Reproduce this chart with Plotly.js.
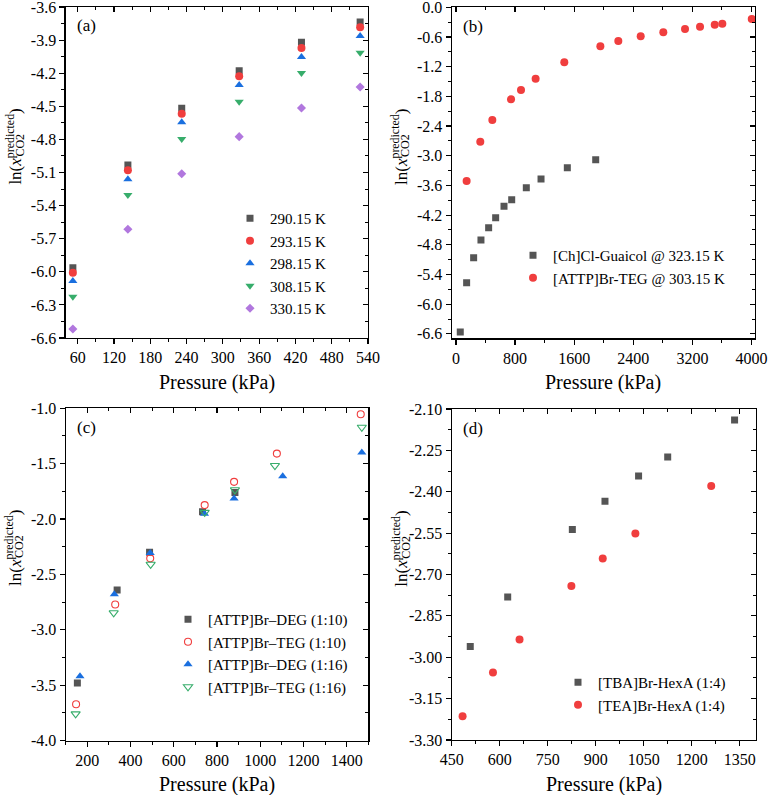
<!DOCTYPE html>
<html>
<head>
<meta charset="utf-8">
<script src="https://cdn.plot.ly/plotly-3.0.1.min.js"></script>
<style>html,body{margin:0;padding:0;background:#fff;}#chart{width:770px;height:795px;}</style>
</head>
<body>
<div id="chart"></div>
<script>
// ---------- Panel (a) ----------
const aPressure = [52, 143, 232, 327, 430, 527];
const a290 = [-5.963, -5.032, -4.518, -4.177, -3.920, -3.736];
const a293 = [-6.008, -5.080, -4.567, -4.228, -3.972, -3.784];
const a298 = [-6.083, -5.162, -4.645, -4.307, -4.053, -3.863];
const a308 = [-6.226, -5.304, -4.796, -4.458, -4.198, -4.014];
const a330 = [-6.518, -5.615, -5.111, -4.775, -4.515, -4.325];
const aNames = ["290.15 K", "293.15 K", "298.15 K", "308.15 K", "330.15 K"];
const aXTicks = [60, 120, 180, 240, 300, 360, 420, 480, 540];
const aXLabels = ["60", "120", "180", "240", "300", "360", "420", "480", "540"];
const aYTicks = [-3.6, -3.9, -4.2, -4.5, -4.8, -5.1, -5.4, -5.7, -6.0, -6.3, -6.6];
const aYLabels = ["-3.6", "-3.9", "-4.2", "-4.5", "-4.8", "-5.1", "-5.4", "-5.7", "-6.0", "-6.3", "-6.6"];

// ---------- Panel (b) ----------
const bPressureCh = [58, 144, 239, 338, 442, 537, 650, 754, 952, 1151, 1507, 1891];
const bLnCh = [-6.564, -5.567, -5.062, -4.704, -4.455, -4.253, -4.023, -3.889, -3.647, -3.471, -3.243, -3.081];
const bPressureAttp = [144, 329, 492, 745, 880, 1078, 1466, 1954, 2197, 2500, 2806, 3100, 3303, 3502, 3605, 4003];
const bLnAttp = [-3.51, -2.717, -2.278, -1.86, -1.672, -1.443, -1.112, -0.789, -0.681, -0.587, -0.506, -0.439, -0.392, -0.351, -0.331, -0.237];
const bNames = ["[Ch]Cl-Guaicol @ 323.15 K", "[ATTP]Br-TEG @ 303.15 K"];
const bXTicks = [0, 800, 1600, 2400, 3200, 4000];
const bXLabels = ["0", "800", "1600", "2400", "3200", "4000"];
const bYTicks = [0, -0.6, -1.2, -1.8, -2.4, -3.0, -3.6, -4.2, -4.8, -5.4, -6.0, -6.6];
const bYLabels = ["0.0", "-0.6", "-1.2", "-1.8", "-2.4", "-3.0", "-3.6", "-4.2", "-4.8", "-5.4", "-6.0", "-6.6"];

// ---------- Panel (c) ----------
const cPressureDeg10 = [154, 338, 488, 733, 883];
const cLnDeg10 = [-3.481, -2.640, -2.301, -1.934, -1.760];
const cPressureTeg10 = [148, 329, 491, 743, 879, 1077, 1465];
const cLnTeg10 = [-3.673, -2.772, -2.355, -1.874, -1.664, -1.409, -1.054];
const cPressureDeg16 = [166, 325, 491, 742, 879, 1104, 1470];
const cLnDeg16 = [-3.420, -2.680, -2.306, -1.952, -1.814, -1.613, -1.400];
const cPressureTeg16 = [146, 322, 493, 743, 883, 1068, 1470];
const cLnTeg16 = [-3.760, -2.847, -2.409, -1.940, -1.736, -1.517, -1.171];
const cNames = ["[ATTP]Br\u2013DEG (1:10)", "[ATTP]Br\u2013TEG (1:10)", "[ATTP]Br\u2013DEG (1:16)", "[ATTP]Br\u2013TEG (1:16)"];
const cXTicks = [200, 400, 600, 800, 1000, 1200, 1400];
const cXLabels = ["200", "400", "600", "800", "1000", "1200", "1400"];
const cYTicks = [-1.0, -1.5, -2.0, -2.5, -3.0, -3.5, -4.0];
const cYLabels = ["-1.0", "-1.5", "-2.0", "-2.5", "-3.0", "-3.5", "-4.0"];

// ---------- Panel (d) ----------
const dPressureTba = [508, 625, 827, 929, 1034, 1125, 1334];
const dLnTba = [-2.961, -2.782, -2.537, -2.434, -2.343, -2.274, -2.140];
const dPressureTea = [484, 579, 662, 824, 922, 1024, 1261];
const dLnTea = [-3.214, -3.055, -2.936, -2.742, -2.642, -2.551, -2.379];
const dNames = ["[TBA]Br-HexA (1:4)", "[TEA]Br-HexA (1:4)"];
const dXTicks = [450, 600, 750, 900, 1050, 1200, 1350];
const dXLabels = ["450", "600", "750", "900", "1050", "1200", "1350"];
const dYTicks = [-2.10, -2.25, -2.40, -2.55, -2.70, -2.85, -3.00, -3.15, -3.30];
const dYLabels = ["-2.10", "-2.25", "-2.40", "-2.55", "-2.70", "-2.85", "-3.00", "-3.15", "-3.30"];

const panelLabels = ["(a)", "(b)", "(c)", "(d)"];
const xTitle = "Pressure (kPa)";
const yTitleMain = "ln(<i>x</i><sup>predicted</sup>)";
const yTitleSub = "CO2";

// ---------- style ----------
const FONT = "Liberation Serif";
const GRAY = "#555555", RED = "#F03E3E", BLUE = "#1A6FDF", GREEN = "#37AD6B", PURPLE = "#B177DE";
const W = 770, H = 795;
const px = v => v / W;
const py = v => 1 - v / H;

function tr(x, y, name, ax, lg, symbol, color, size, open) {
  return {
    type: "scatter", mode: "markers", x: x, y: y, name: name,
    xaxis: "x" + ax, yaxis: "y" + ax, legend: lg,
    marker: open
      ? {symbol: symbol, size: size, color: color, line: {color: color, width: 1.1}}
      : {symbol: symbol, size: size, color: color, line: {width: 0}}
  };
}

const data = [
  tr(aPressure, a290, aNames[0], 1, "legend", "square", GRAY, 7),
  tr(aPressure, a293, aNames[1], 1, "legend", "circle", RED, 8),
  tr(aPressure, a298, aNames[2], 1, "legend", "triangle-up", BLUE, 8),
  tr(aPressure, a308, aNames[3], 1, "legend", "triangle-down", GREEN, 8),
  tr(aPressure, a330, aNames[4], 1, "legend", "diamond", PURPLE, 7),
  tr(bPressureCh, bLnCh, bNames[0], 2, "legend2", "square", GRAY, 7),
  tr(bPressureAttp, bLnAttp, bNames[1], 2, "legend2", "circle", RED, 8),
  tr(cPressureDeg10, cLnDeg10, cNames[0], 3, "legend3", "square", GRAY, 7),
  tr(cPressureTeg10, cLnTeg10, cNames[1], 3, "legend3", "circle-open", RED, 7, true),
  tr(cPressureDeg16, cLnDeg16, cNames[2], 3, "legend3", "triangle-up", BLUE, 8),
  tr(cPressureTeg16, cLnTeg16, cNames[3], 3, "legend3", "triangle-down-open", GREEN, 8, true),
  tr(dPressureTba, dLnTba, dNames[0], 4, "legend4", "square", GRAY, 7),
  tr(dPressureTea, dLnTea, dNames[1], 4, "legend4", "circle", RED, 8)
];

const layout = {
  width: W, height: H,
  margin: {l: 0, r: 0, t: 0, b: 0},
  paper_bgcolor: "#fff", plot_bgcolor: "rgba(0,0,0,0)",
  font: {family: FONT, size: 16, color: "#000"},
  annotations: []
};

const EPS = 1e-6;
const panels = [
  {dx: [65.6, 368], dy: [7, 338], xr: [40, 540], yr: [-6.6, -3.6], xt: aXTicks, xl: aXLabels, yt: aYTicks, yl: aYLabels, xm: 30, ym: 0.15, xt0: 60, yt0: -3.6},
  {dx: [451.7, 755], dy: [7.3, 338.3], xr: [-58, 4047], yr: [-6.69, 0], xt: bXTicks, xl: bXLabels, yt: bYTicks, yl: bYLabels, xm: 400, ym: 0.3, xt0: 0, yt0: 0},
  {dx: [65.7, 368.3], dy: [408.3, 740.5], xr: [100, 1500], yr: [-4, -1], xt: cXTicks, xl: cXLabels, yt: cYTicks, yl: cYLabels, xm: 100, ym: 0.25, xt0: 200, yt0: -1},
  {dx: [451.7, 755.7], dy: [409, 740], xr: [450, 1400], yr: [-3.3, -2.1], xt: dXTicks, xl: dXLabels, yt: dYTicks, yl: dYLabels, xm: 75, ym: 0.075, xt0: 450, yt0: -2.1}
];

const common = {
  showline: true, linecolor: "#000", linewidth: 1.2, showgrid: false, zeroline: false,
  tickcolor: "#000", tickwidth: 1.2, ticklen: 5, fixedrange: true,
  ticklabeloverflow: "allow",
  tickfont: {family: FONT, size: 16, color: "#000"}
};

panels.forEach((p, k) => {
  const i = k + 1, j = k + 5;
  const xd = [px(p.dx[0]), px(p.dx[1])];
  const yd = [py(p.dy[1]), py(p.dy[0])];
  const xr = [p.xr[0] - (p.xr[1] - p.xr[0]) * EPS, p.xr[1] + (p.xr[1] - p.xr[0]) * EPS];
  const yr = [p.yr[0] - (p.yr[1] - p.yr[0]) * EPS, p.yr[1] + (p.yr[1] - p.yr[0]) * EPS];
  layout["xaxis" + i] = Object.assign({}, common, {
    domain: xd, range: xr, anchor: "y" + i, tickmode: "array", tickvals: p.xt, ticktext: p.xl,
    ticks: "outside",
    minor: {ticks: "outside", ticklen: 3, tickwidth: 1, tickcolor: "#000", tickmode: "linear", tick0: p.xt0, dtick: p.xm, showgrid: false}
  });
  layout["yaxis" + i] = Object.assign({}, common, {
    domain: yd, range: yr, anchor: "x" + i, tickmode: "array", tickvals: p.yt, ticktext: p.yl,
    ticks: "outside",
    minor: {ticks: "outside", ticklen: 3, tickwidth: 1, tickcolor: "#000", tickmode: "linear", tick0: p.yt0, dtick: p.ym, showgrid: false}
  });
  layout["xaxis" + j] = Object.assign({}, common, {
    overlaying: "x" + i, side: "top", anchor: "y" + i, range: xr, tickmode: "array", tickvals: p.xt,
    showticklabels: false, ticks: "inside",
    minor: {ticks: "inside", ticklen: 3, tickwidth: 1, tickcolor: "#000", tickmode: "linear", tick0: p.xt0, dtick: p.xm, showgrid: false}
  });
  layout["yaxis" + j] = Object.assign({}, common, {
    overlaying: "y" + i, side: "right", anchor: "x" + i, range: yr, tickmode: "array", tickvals: p.yt,
    showticklabels: false, ticks: "inside",
    minor: {ticks: "inside", ticklen: 3, tickwidth: 1, tickcolor: "#000", tickmode: "linear", tick0: p.yt0, dtick: p.ym, showgrid: false}
  });
  // empty traces so the mirrored (top / right) axes get drawn
  data.push({type: "scatter", mode: "markers", x: [], y: [], xaxis: "x" + j, yaxis: "y" + i, showlegend: false, hoverinfo: "skip"});
  data.push({type: "scatter", mode: "markers", x: [], y: [], xaxis: "x" + i, yaxis: "y" + j, showlegend: false, hoverinfo: "skip"});
  // panel label
  layout.annotations.push({xref: "paper", yref: "paper", x: px(p.dx[0] + 21), y: py(p.dy[0] + 19),
    text: panelLabels[k], showarrow: false, xanchor: "center", yanchor: "middle", font: {family: FONT, size: 17, color: "#000"}});
  // x title
  layout.annotations.push({xref: "paper", yref: "paper", x: px((p.dx[0] + p.dx[1]) / 2), y: py(p.dy[1] + 44),
    text: xTitle, showarrow: false, xanchor: "center", yanchor: "middle", font: {family: FONT, size: 20, color: "#000"}});
  // y title (main + stacked subscript)
  const tx = p.dx[0] - 52, ty = p.dy[0] + 140;
  layout.annotations.push({xref: "paper", yref: "paper", x: px(tx), y: py(ty),
    text: yTitleMain, textangle: -90, showarrow: false, xanchor: "center", yanchor: "middle", font: {family: FONT, size: 17, color: "#000"}});
  layout.annotations.push({xref: "paper", yref: "paper", x: px(tx + 6), y: py(ty - 2),
    text: yTitleSub, textangle: -90, showarrow: false, xanchor: "center", yanchor: "middle", font: {family: FONT, size: 12, color: "#000"}});
});

const legendBase = {xanchor: "left", yanchor: "top", bgcolor: "rgba(0,0,0,0)", borderwidth: 0,
  font: {family: FONT, size: 15, color: "#000"}, itemclick: false, itemdoubleclick: false};
layout.legend = Object.assign({}, legendBase, {x: px(230), y: py(202)});
layout.legend2 = Object.assign({}, legendBase, {x: px(513), y: py(239)});
layout.legend3 = Object.assign({}, legendBase, {x: px(168), y: py(603)});
layout.legend4 = Object.assign({}, legendBase, {x: px(558), y: py(666)});

Plotly.newPlot("chart", data, layout, {staticPlot: true, displayModeBar: false});
</script>
</body>
</html>
